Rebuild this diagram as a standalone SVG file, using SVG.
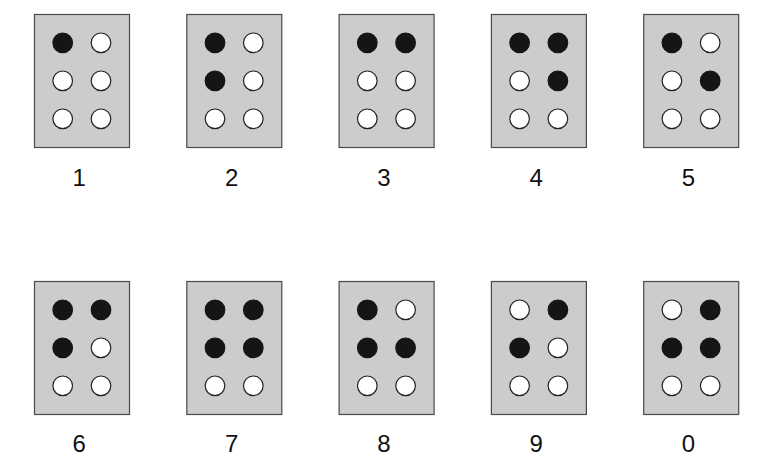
<svg xmlns="http://www.w3.org/2000/svg" width="765" height="472" viewBox="0 0 765 472">
<style>
.box{fill:#cccccc;stroke:#4a4a4a;stroke-width:1.2}
.on{fill:#151515;stroke:#151515;stroke-width:1.2}
.off{fill:#ffffff;stroke:#222222;stroke-width:1.2}
.lbl{font-family:"Liberation Sans",Arial,sans-serif;font-size:24px;fill:#111111;text-anchor:middle}
</style>
<rect width="765" height="472" fill="#ffffff"/>
<g id="cell-1" transform="translate(34.5,14.5)">
<rect class="box" width="95" height="133"/>
<circle class="on" cx="28.2" cy="28.3" r="9.8"/><circle class="off" cx="66.5" cy="28.3" r="9.8"/>
<circle class="off" cx="28.2" cy="66.3" r="9.8"/><circle class="off" cx="66.5" cy="66.3" r="9.8"/>
<circle class="off" cx="28.2" cy="104.3" r="9.8"/><circle class="off" cx="66.5" cy="104.3" r="9.8"/>
<text class="lbl" x="44.8" y="171.5">1</text>
</g>
<g id="cell-2" transform="translate(186.8,14.5)">
<rect class="box" width="95" height="133"/>
<circle class="on" cx="28.2" cy="28.3" r="9.8"/><circle class="off" cx="66.5" cy="28.3" r="9.8"/>
<circle class="on" cx="28.2" cy="66.3" r="9.8"/><circle class="off" cx="66.5" cy="66.3" r="9.8"/>
<circle class="off" cx="28.2" cy="104.3" r="9.8"/><circle class="off" cx="66.5" cy="104.3" r="9.8"/>
<text class="lbl" x="44.8" y="171.5">2</text>
</g>
<g id="cell-3" transform="translate(339.1,14.5)">
<rect class="box" width="95" height="133"/>
<circle class="on" cx="28.2" cy="28.3" r="9.8"/><circle class="on" cx="66.5" cy="28.3" r="9.8"/>
<circle class="off" cx="28.2" cy="66.3" r="9.8"/><circle class="off" cx="66.5" cy="66.3" r="9.8"/>
<circle class="off" cx="28.2" cy="104.3" r="9.8"/><circle class="off" cx="66.5" cy="104.3" r="9.8"/>
<text class="lbl" x="44.8" y="171.5">3</text>
</g>
<g id="cell-4" transform="translate(491.4,14.5)">
<rect class="box" width="95" height="133"/>
<circle class="on" cx="28.2" cy="28.3" r="9.8"/><circle class="on" cx="66.5" cy="28.3" r="9.8"/>
<circle class="off" cx="28.2" cy="66.3" r="9.8"/><circle class="on" cx="66.5" cy="66.3" r="9.8"/>
<circle class="off" cx="28.2" cy="104.3" r="9.8"/><circle class="off" cx="66.5" cy="104.3" r="9.8"/>
<text class="lbl" x="44.8" y="171.5">4</text>
</g>
<g id="cell-5" transform="translate(643.7,14.5)">
<rect class="box" width="95" height="133"/>
<circle class="on" cx="28.2" cy="28.3" r="9.8"/><circle class="off" cx="66.5" cy="28.3" r="9.8"/>
<circle class="off" cx="28.2" cy="66.3" r="9.8"/><circle class="on" cx="66.5" cy="66.3" r="9.8"/>
<circle class="off" cx="28.2" cy="104.3" r="9.8"/><circle class="off" cx="66.5" cy="104.3" r="9.8"/>
<text class="lbl" x="44.8" y="171.5">5</text>
</g>
<g id="cell-6" transform="translate(34.5,281.5)">
<rect class="box" width="95" height="133"/>
<circle class="on" cx="28.2" cy="28.3" r="9.8"/><circle class="on" cx="66.5" cy="28.3" r="9.8"/>
<circle class="on" cx="28.2" cy="66.3" r="9.8"/><circle class="off" cx="66.5" cy="66.3" r="9.8"/>
<circle class="off" cx="28.2" cy="104.3" r="9.8"/><circle class="off" cx="66.5" cy="104.3" r="9.8"/>
<text class="lbl" x="44.8" y="170.5">6</text>
</g>
<g id="cell-7" transform="translate(186.8,281.5)">
<rect class="box" width="95" height="133"/>
<circle class="on" cx="28.2" cy="28.3" r="9.8"/><circle class="on" cx="66.5" cy="28.3" r="9.8"/>
<circle class="on" cx="28.2" cy="66.3" r="9.8"/><circle class="on" cx="66.5" cy="66.3" r="9.8"/>
<circle class="off" cx="28.2" cy="104.3" r="9.8"/><circle class="off" cx="66.5" cy="104.3" r="9.8"/>
<text class="lbl" x="44.8" y="170.5">7</text>
</g>
<g id="cell-8" transform="translate(339.1,281.5)">
<rect class="box" width="95" height="133"/>
<circle class="on" cx="28.2" cy="28.3" r="9.8"/><circle class="off" cx="66.5" cy="28.3" r="9.8"/>
<circle class="on" cx="28.2" cy="66.3" r="9.8"/><circle class="on" cx="66.5" cy="66.3" r="9.8"/>
<circle class="off" cx="28.2" cy="104.3" r="9.8"/><circle class="off" cx="66.5" cy="104.3" r="9.8"/>
<text class="lbl" x="44.8" y="170.5">8</text>
</g>
<g id="cell-9" transform="translate(491.4,281.5)">
<rect class="box" width="95" height="133"/>
<circle class="off" cx="28.2" cy="28.3" r="9.8"/><circle class="on" cx="66.5" cy="28.3" r="9.8"/>
<circle class="on" cx="28.2" cy="66.3" r="9.8"/><circle class="off" cx="66.5" cy="66.3" r="9.8"/>
<circle class="off" cx="28.2" cy="104.3" r="9.8"/><circle class="off" cx="66.5" cy="104.3" r="9.8"/>
<text class="lbl" x="44.8" y="170.5">9</text>
</g>
<g id="cell-0" transform="translate(643.7,281.5)">
<rect class="box" width="95" height="133"/>
<circle class="off" cx="28.2" cy="28.3" r="9.8"/><circle class="on" cx="66.5" cy="28.3" r="9.8"/>
<circle class="on" cx="28.2" cy="66.3" r="9.8"/><circle class="on" cx="66.5" cy="66.3" r="9.8"/>
<circle class="off" cx="28.2" cy="104.3" r="9.8"/><circle class="off" cx="66.5" cy="104.3" r="9.8"/>
<text class="lbl" x="44.8" y="170.5">0</text>
</g>
<g id="connectors"></g>
</svg>
